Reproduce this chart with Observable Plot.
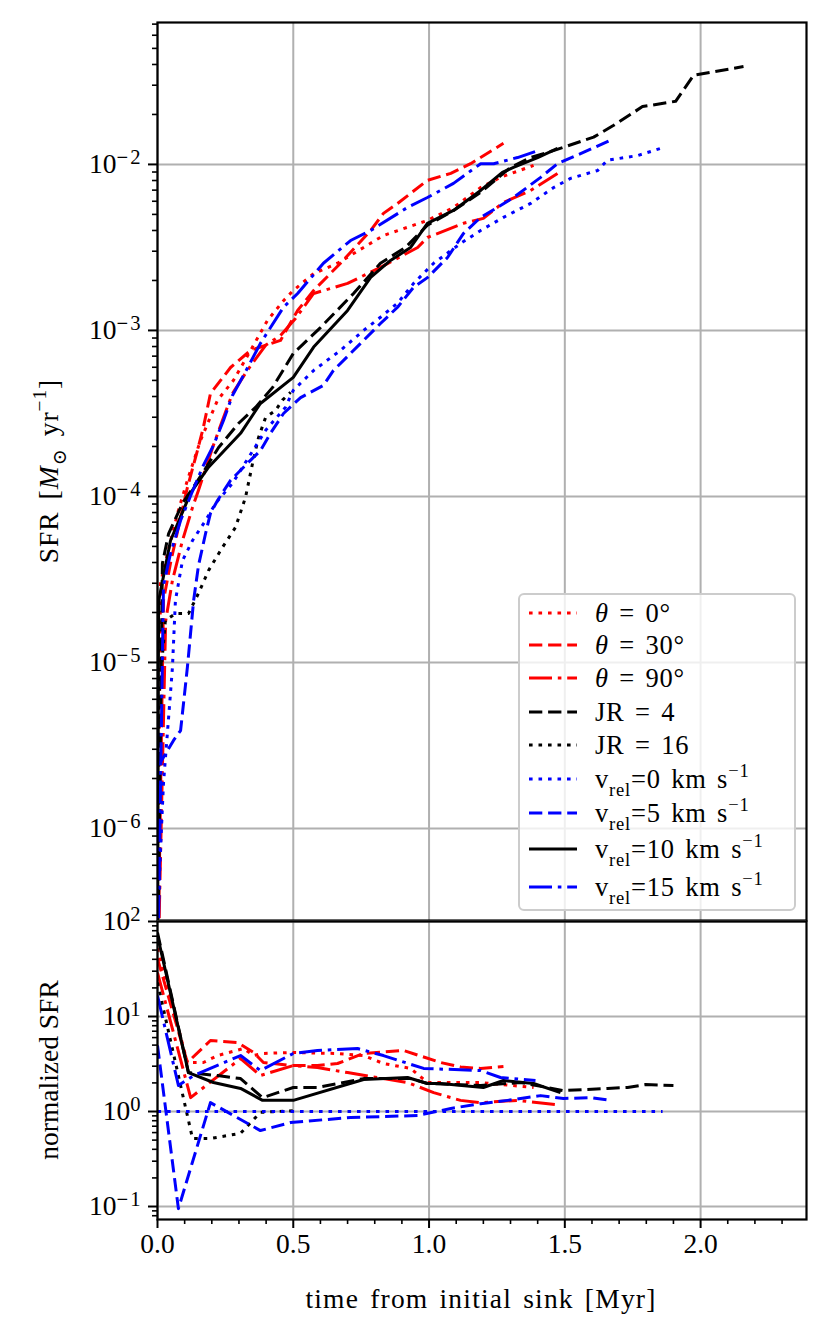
<!DOCTYPE html>
<html>
<head>
<meta charset="utf-8">
<script src="https://cdn.jsdelivr.net/npm/d3@7"></script>
<script src="https://cdn.jsdelivr.net/npm/@observablehq/plot@0.6"></script>
<style>
html,body{margin:0;padding:0;background:#fff;}
#fig{position:relative;width:832px;height:1338px;overflow:hidden;background:#fff;}
#fig svg{position:absolute;left:0;}
</style>
</head>
<body>
<div id="fig"></div>
<script>
// ---------------- data: top panel (SFR, Msun/yr) ----------------
const t_theta0   = [0, 0.011, 0.037, 0.074, 0.11, 0.158, 0.221, 0.28, 0.343, 0.405, 0.464, 0.50, 0.575, 0.663, 0.759, 0.832, 0.994, 1.09, 1.19, 1.263, 1.385];
const sfr_theta0 = [1e-7, 2.99e-5, 4.54e-5, 7.94e-5, 1.25e-4, 2.17e-4, 3.80e-4, 5.01e-4, 7.59e-4, 1.15e-3, 1.51e-3, 1.74e-3, 2.20e-3, 2.54e-3, 3.16e-3, 3.73e-3, 4.60e-3, 5.50e-3, 7.26e-3, 8.36e-3, 9.86e-3];

const t_theta30   = [0, 0.022, 0.048, 0.085, 0.11, 0.147, 0.169, 0.195, 0.269, 0.343, 0.453, 0.516, 0.575, 0.674, 0.785, 0.832, 0.884, 0.994, 1.08, 1.153, 1.274];
const sfr_theta30 = [1e-7, 2.36e-5, 3.98e-5, 7.46e-5, 1.13e-4, 1.89e-4, 2.61e-4, 4.17e-4, 5.98e-4, 7.59e-4, 8.71e-4, 1.32e-3, 1.74e-3, 2.54e-3, 4.00e-3, 5.07e-3, 5.82e-3, 8.02e-3, 8.83e-3, 1.01e-2, 1.34e-2];

const t_theta90   = [0, 0.03, 0.055, 0.092, 0.129, 0.151, 0.203, 0.239, 0.276, 0.331, 0.398, 0.453, 0.508, 0.575, 0.70, 0.821, 0.958, 0.994, 1.127, 1.20, 1.274, 1.374, 1.473];
const sfr_theta90 = [1e-7, 1.78e-5, 3.12e-5, 5.43e-5, 8.59e-5, 1.09e-4, 1.97e-4, 2.87e-4, 4.17e-4, 5.75e-4, 8.13e-4, 9.33e-4, 1.18e-3, 1.67e-3, 1.92e-3, 2.40e-3, 3.16e-3, 3.63e-3, 4.42e-3, 4.73e-3, 5.90e-3, 6.97e-3, 8.83e-3];

const t_jr4   = [0, 0.018, 0.041, 0.092, 0.166, 0.225, 0.298, 0.361, 0.424, 0.50, 0.60, 0.722, 0.821, 0.913, 0.994, 1.09, 1.19, 1.30, 1.374, 1.458, 1.606, 1.68, 1.786, 1.908, 1.974, 2.158];
const sfr_jr4 = [1e-7, 3.94e-5, 5.98e-5, 9.08e-5, 1.38e-4, 1.97e-4, 2.75e-4, 3.44e-4, 4.54e-4, 7.26e-4, 1.04e-3, 1.67e-3, 2.54e-3, 3.16e-3, 4.30e-3, 5.28e-3, 6.78e-3, 9.59e-3, 1.10e-2, 1.21e-2, 1.46e-2, 1.72e-2, 2.23e-2, 2.40e-2, 3.44e-2, 3.89e-2];

const t_jr16   = [0, 0.004, 0.029, 0.066, 0.114, 0.151, 0.188, 0.239, 0.287, 0.324, 0.35, 0.372, 0.398, 0.435, 0.46, 0.49];
const sfr_jr16 = [1e-7, 5.89e-6, 1.79e-5, 1.97e-5, 1.97e-5, 2.61e-5, 3.58e-5, 4.93e-5, 6.50e-5, 9.86e-5, 1.58e-4, 2.26e-4, 2.99e-4, 3.30e-4, 3.80e-4, 4.24e-4];

const t_v0   = [0, 0.004, 0.011, 0.022, 0.041, 0.055, 0.066, 0.092, 0.129, 0.177, 0.214, 0.276, 0.313, 0.398, 0.471, 0.50, 0.575, 0.674, 0.759, 0.821, 0.884, 0.943, 1.017, 1.116, 1.19, 1.274, 1.374, 1.459, 1.521, 1.621, 1.657, 1.768, 1.86];
const sfr_v0 = [1e-7, 3.68e-7, 7.36e-7, 1.87e-6, 4.68e-6, 9.33e-6, 2.36e-5, 4.11e-5, 5.43e-5, 7.16e-5, 9.08e-5, 1.20e-4, 1.50e-4, 2.50e-4, 3.44e-4, 4.36e-4, 5.74e-4, 7.59e-4, 1.0e-3, 1.20e-3, 1.46e-3, 1.92e-3, 2.54e-3, 3.34e-3, 4.00e-3, 4.80e-3, 5.82e-3, 7.26e-3, 8.24e-3, 9.20e-3, 1.06e-2, 1.13e-2, 1.26e-2];

const t_v5   = [0.004, 0.059, 0.085, 0.11, 0.133, 0.151, 0.177, 0.195, 0.221, 0.269, 0.317, 0.379, 0.416, 0.464, 0.527, 0.611, 0.648, 0.748, 0.821, 0.884, 0.943, 0.994, 1.068, 1.127, 1.19, 1.252, 1.311, 1.411, 1.473, 1.558, 1.668];
const sfr_v5 = [2.40e-6, 3.39e-6, 3.89e-6, 9.33e-6, 2.36e-5, 3.84e-5, 5.98e-5, 7.91e-5, 9.46e-5, 1.25e-4, 1.50e-4, 1.89e-4, 2.40e-4, 3.16e-4, 3.94e-4, 4.67e-4, 5.74e-4, 8.36e-4, 1.10e-3, 1.38e-3, 1.82e-3, 2.08e-3, 2.75e-3, 3.84e-3, 4.80e-3, 5.51e-3, 6.32e-3, 8.36e-3, 1.01e-2, 1.16e-2, 1.40e-2];

const t_v10   = [0, 0.004, 0.048, 0.122, 0.188, 0.306, 0.379, 0.50, 0.575, 0.70, 0.785, 0.858, 0.932, 0.994, 1.09, 1.19, 1.27, 1.311, 1.40, 1.473];
const sfr_v10 = [1e-7, 2.34e-5, 5.43e-5, 1.05e-4, 1.50e-4, 2.40e-4, 3.63e-4, 5.21e-4, 7.94e-4, 1.32e-3, 2.09e-3, 2.64e-3, 3.16e-3, 4.42e-3, 5.28e-3, 6.97e-3, 8.95e-3, 9.59e-3, 1.10e-2, 1.25e-2];

const t_v15   = [0, 0.022, 0.048, 0.085, 0.122, 0.169, 0.206, 0.243, 0.276, 0.317, 0.379, 0.464, 0.516, 0.611, 0.711, 0.785, 0.921, 0.994, 1.09, 1.19, 1.238, 1.326, 1.40];
const sfr_v15 = [1e-7, 2.91e-5, 4.54e-5, 7.16e-5, 1.01e-4, 1.54e-4, 2.03e-4, 2.87e-4, 4.06e-4, 5.37e-4, 8.36e-4, 1.38e-3, 1.67e-3, 2.54e-3, 3.48e-3, 4.00e-3, 5.51e-3, 6.32e-3, 7.69e-3, 1.01e-2, 1.01e-2, 1.10e-2, 1.21e-2];

// ---------------- data: bottom panel (normalized SFR) ----------------
const tn_theta0 = [0, 0.11, 0.169, 0.221, 0.317, 0.354, 0.39, 0.49, 0.663, 0.759, 0.832, 0.932, 0.994, 1.19, 1.227, 1.385];
const nsfr_theta0 = [52, 3.28, 3.28, 3.88, 4.60, 3.88, 4.08, 4.18, 4.08, 3.88, 3.20, 2.84, 2.02, 2.02, 1.97, 1.79];

const tn_theta30 = [0, 0.11, 0.195, 0.295, 0.354, 0.39, 0.49, 0.589, 0.663, 0.759, 0.906, 1.042, 1.116, 1.19, 1.274];
const nsfr_theta30 = [40.7, 3.28, 5.59, 5.33, 4.18, 3.28, 3.05, 3.05, 3.20, 4.08, 4.39, 3.28, 2.94, 2.84, 2.98];

const tn_theta90 = [0, 0.122, 0.306, 0.379, 0.50, 0.589, 0.70, 0.832, 0.921, 1.017, 1.116, 1.19, 1.326, 1.466];
const nsfr_theta90 = [29, 1.40, 3.61, 2.39, 3.05, 2.90, 2.57, 2.22, 2.02, 1.58, 1.31, 1.24, 1.31, 1.18];

const tn_jr4 = [0, 0.114, 0.221, 0.306, 0.387, 0.50, 0.589, 0.759, 0.932, 0.994, 1.19, 1.337, 1.495, 1.657, 1.731, 1.797, 1.90];
const nsfr_jr4 = [76.6, 2.57, 2.39, 2.22, 1.40, 1.79, 1.79, 2.22, 2.22, 1.97, 1.88, 2.02, 1.66, 1.75, 1.79, 1.92, 1.88];

const tn_jr16 = [0, 0.085, 0.129, 0.195, 0.306, 0.379, 0.50];
const nsfr_jr16 = [22.8, 1.88, 0.52, 0.52, 0.59, 0.98, 1.02];

const tn_v0 = [0, 1.86];
const nsfr_v0 = [1, 1];

const tn_v5 = [0, 0.077, 0.184, 0.195, 0.379, 0.49, 0.711, 0.958, 1.08, 1.19, 1.289, 1.411, 1.495, 1.595, 1.668];
const nsfr_v5 = [4.95, 0.095, 0.977, 1.24, 0.63, 0.766, 0.865, 0.908, 1.076, 1.21, 1.31, 1.47, 1.37, 1.40, 1.31];

const tn_v10 = [0, 0.114, 0.206, 0.306, 0.387, 0.50, 0.759, 0.921, 0.994, 1.042, 1.20, 1.274, 1.385, 1.484];
const nsfr_v10 = [71, 2.57, 2.02, 1.75, 1.31, 1.31, 2.17, 2.28, 1.97, 1.97, 1.79, 2.12, 1.97, 1.58];

const tn_v15 = [0, 0.077, 0.133, 0.306, 0.379, 0.50, 0.589, 0.737, 0.832, 0.98, 1.19, 1.263, 1.392];
const nsfr_v15 = [16.6, 1.88, 2.39, 3.88, 2.70, 4.08, 4.39, 4.60, 3.88, 2.84, 2.70, 2.28, 2.12];

// ---------------- ticks & labels ----------------
const xMajorTicks = [0, 0.5, 1.0, 1.5, 2.0];
const xMinorTicks = [0.1,0.2,0.3,0.4,0.6,0.7,0.8,0.9,1.1,1.2,1.3,1.4,1.6,1.7,1.8,1.9,2.1,2.2,2.3];
const topMajorTicks = [1e-6, 1e-5, 1e-4, 1e-3, 1e-2];
const botMajorTicks = [0.1, 1, 10, 100];
const xDomain = [0, 2.39];
const topDomain = [2.79e-7, 0.0716];
const botDomain = [0.073, 100];
const xLabel = "time from initial sink [Myr]";
const botYLabel = "normalized SFR";

const series = [
  {key:"theta0",  label:[["θ","i"],[" = 0°","n"]],   t:t_theta0,  v:sfr_theta0,  tn:tn_theta0,  vn:nsfr_theta0},
  {key:"theta30", label:[["θ","i"],[" = 30°","n"]],  t:t_theta30, v:sfr_theta30, tn:tn_theta30, vn:nsfr_theta30},
  {key:"theta90", label:[["θ","i"],[" = 90°","n"]],  t:t_theta90, v:sfr_theta90, tn:tn_theta90, vn:nsfr_theta90},
  {key:"jr4",     label:[["JR = 4","n"]],            t:t_jr4,     v:sfr_jr4,     tn:tn_jr4,     vn:nsfr_jr4},
  {key:"jr16",    label:[["JR = 16","n"]],           t:t_jr16,    v:sfr_jr16,    tn:tn_jr16,    vn:nsfr_jr16},
  {key:"v0",      label:[["v","n"],["rel","sub"],["=0 km s","n"],["−1","sup"]],  t:t_v0,  v:sfr_v0,  tn:tn_v0,  vn:nsfr_v0},
  {key:"v5",      label:[["v","n"],["rel","sub"],["=5 km s","n"],["−1","sup"]],  t:t_v5,  v:sfr_v5,  tn:tn_v5,  vn:nsfr_v5},
  {key:"v10",     label:[["v","n"],["rel","sub"],["=10 km s","n"],["−1","sup"]], t:t_v10, v:sfr_v10, tn:tn_v10, vn:nsfr_v10},
  {key:"v15",     label:[["v","n"],["rel","sub"],["=15 km s","n"],["−1","sup"]], t:t_v15, v:sfr_v15, tn:tn_v15, vn:nsfr_v15}
];

// ---------------- styles ----------------
const FONT = "'Liberation Serif','DejaVu Serif',serif";
const FS = 27.5, LEGFS = 26.5;
const LW = 3;
const GRID = "#b0b0b0";
const DOT = "3.6,5.9", DASH = "13.3,5.8", DASHDOT = "23,5.8,3.6,5.8";
const styleOf = {
  theta0:{stroke:"#ff0000", dash:DOT},
  theta30:{stroke:"#ff0000", dash:DASH},
  theta90:{stroke:"#ff0000", dash:DASHDOT},
  jr4:{stroke:"#000000", dash:DASH},
  jr16:{stroke:"#000000", dash:DOT},
  v0:{stroke:"#0000ff", dash:DOT},
  v5:{stroke:"#0000ff", dash:DASH},
  v10:{stroke:"#000000", dash:null},
  v15:{stroke:"#0000ff", dash:DASHDOT}
};

function minorLog(domain){
  const out=[];
  for(let k=-8;k<=2;k++) for(let m=2;m<=9;m++){
    const v=m*Math.pow(10,k);
    if(v>=domain[0]&&v<=domain[1]) out.push(v);
  }
  return out;
}
function expFmt(d){
  const e=Math.round(Math.log10(d));
  return "10^" + (e<0 ? "−"+Math.abs(e) : String(e));
}
function lineMark(key, tArr, vArr){
  const st=styleOf[key];
  const data=tArr.map((t,i)=>({t, v:vArr[i]}));
  const o={x:"t", y:"v", stroke:st.stroke, strokeWidth:LW, strokeLinecap:"butt", strokeLinejoin:"round", clip:true};
  if(st.dash) o.strokeDasharray=st.dash;
  return Plot.line(data,o);
}
function rich(sel, parts, fs){
  let shift=0;
  parts.forEach(([str,kind])=>{
    const ts=sel.append("tspan").text(str);
    let target=0;
    if(kind==="sub"){target=0.28*fs; ts.attr("font-size",0.7*fs);}
    else if(kind==="sup"){target=-0.42*fs; ts.attr("font-size",0.7*fs);}
    if(kind==="i") ts.attr("font-style","italic");
    const d=target-shift;
    if(d) ts.attr("dy",d);
    shift=target;
  });
}
function supTicks(svg){
  d3.select(svg).selectAll('[aria-label="y-axis tick label"] text').each(function(){
    const s=this.textContent;
    if(!s.includes("^")) return;
    const [b,e]=s.split("^");
    const el=d3.select(this);
    el.text(null);
    el.append("tspan").text(b);
    el.append("tspan").attr("dy","-0.45em").attr("font-size","0.75em").attr("letter-spacing","2px").text(e);
  });
}

const baseStyle={fontFamily:FONT, fontSize:FS+"px", background:"transparent", overflow:"visible", color:"black"};

// ---------------- top panel ----------------
const topSvg = Plot.plot({
  width:832, height:921,
  marginLeft:157, marginRight:26, marginTop:22, marginBottom:1,
  style:baseStyle,
  x:{domain:xDomain, axis:null},
  y:{type:"log", domain:topDomain},
  marks:[
    Plot.gridX(xMajorTicks,{stroke:GRID, strokeOpacity:1, strokeWidth:2}),
    Plot.gridY(topMajorTicks,{stroke:GRID, strokeOpacity:1, strokeWidth:2}),
    ...series.map(s=>lineMark(s.key, s.t, s.v)),
    Plot.frame({stroke:"black", strokeWidth:2.2}),
    Plot.axisY(topMajorTicks,{tickSize:9, tickPadding:6, tickFormat:expFmt, label:null, strokeWidth:2}),
    Plot.axisY(minorLog(topDomain),{tickSize:5, tickFormat:()=>"", label:null, strokeWidth:1.6})
  ]
});
topSvg.style.top="0px";

// ---------------- bottom panel ----------------
const botSvg = Plot.plot({
  width:832, height:438,
  marginLeft:157, marginRight:26, marginTop:21, marginBottom:119,
  style:baseStyle,
  x:{domain:xDomain},
  y:{type:"log", domain:botDomain},
  marks:[
    Plot.gridX(xMajorTicks,{stroke:GRID, strokeOpacity:1, strokeWidth:2}),
    Plot.gridY(botMajorTicks,{stroke:GRID, strokeOpacity:1, strokeWidth:2}),
    ...series.map(s=>lineMark(s.key, s.tn, s.vn)),
    Plot.frame({stroke:"black", strokeWidth:2.2}),
    Plot.axisY(botMajorTicks,{tickSize:9, tickPadding:6, tickFormat:expFmt, label:null, strokeWidth:2}),
    Plot.axisY(minorLog(botDomain),{tickSize:5, tickFormat:()=>"", label:null, strokeWidth:1.6}),
    Plot.axisX(xMajorTicks,{tickSize:9, tickPadding:5, tickFormat:d=>d.toFixed(1), label:null, strokeWidth:2}),
    Plot.axisX(xMinorTicks,{tickSize:5, tickFormat:()=>"", label:null, strokeWidth:1.6})
  ]
});
botSvg.style.top="900px";

const fig=document.getElementById("fig");
fig.appendChild(topSvg);
fig.appendChild(botSvg);
supTicks(topSvg);
supTicks(botSvg);

// y labels
const yl1=d3.select(topSvg).append("text")
  .attr("transform","translate(58,471) rotate(-90)")
  .attr("text-anchor","middle").attr("font-size",FS).attr("font-family",FONT).attr("fill","black")
  .attr("letter-spacing","1px").attr("word-spacing","4px");
rich(yl1,[["SFR [","n"],["M","i"],["⊙","sub"],[" yr","n"],["−1","sup"],["]","n"]],FS);

d3.select(botSvg).append("text")
  .attr("transform","translate(58,170) rotate(-90)")
  .attr("text-anchor","middle").attr("font-size",FS).attr("font-family",FONT).attr("fill","black")
  .text(botYLabel);

d3.select(botSvg).append("text")
  .attr("x",481).attr("y",408)
  .attr("text-anchor","middle").attr("font-size",FS).attr("font-family",FONT).attr("fill","black")
  .attr("letter-spacing","1.2px").attr("word-spacing","3px")
  .text(xLabel);

// legend
const leg=d3.select(topSvg).append("g").attr("font-family",FONT);
leg.append("rect").attr("x",519).attr("y",594).attr("width",276).attr("height",316).attr("rx",5)
  .attr("fill","white").attr("fill-opacity",0.8).attr("stroke","#cccccc").attr("stroke-width",2);
const rowsY=[613,645,678,712,745,779,813,849,887];
series.forEach((s,i)=>{
  const y=rowsY[i], st=styleOf[s.key];
  const ln=leg.append("line").attr("x1",529).attr("x2",577).attr("y1",y).attr("y2",y)
    .attr("stroke",st.stroke).attr("stroke-width",LW).attr("stroke-linecap","butt");
  if(st.dash) ln.attr("stroke-dasharray",st.dash);
  const tx=leg.append("text").attr("x",595).attr("y",y).attr("dy","0.35em")
    .attr("text-anchor","start").attr("font-size",LEGFS).attr("fill","black")
    .attr("letter-spacing","0.8px").attr("word-spacing","3px");
  rich(tx,s.label,LEGFS);
});
</script>
</body>
</html>
